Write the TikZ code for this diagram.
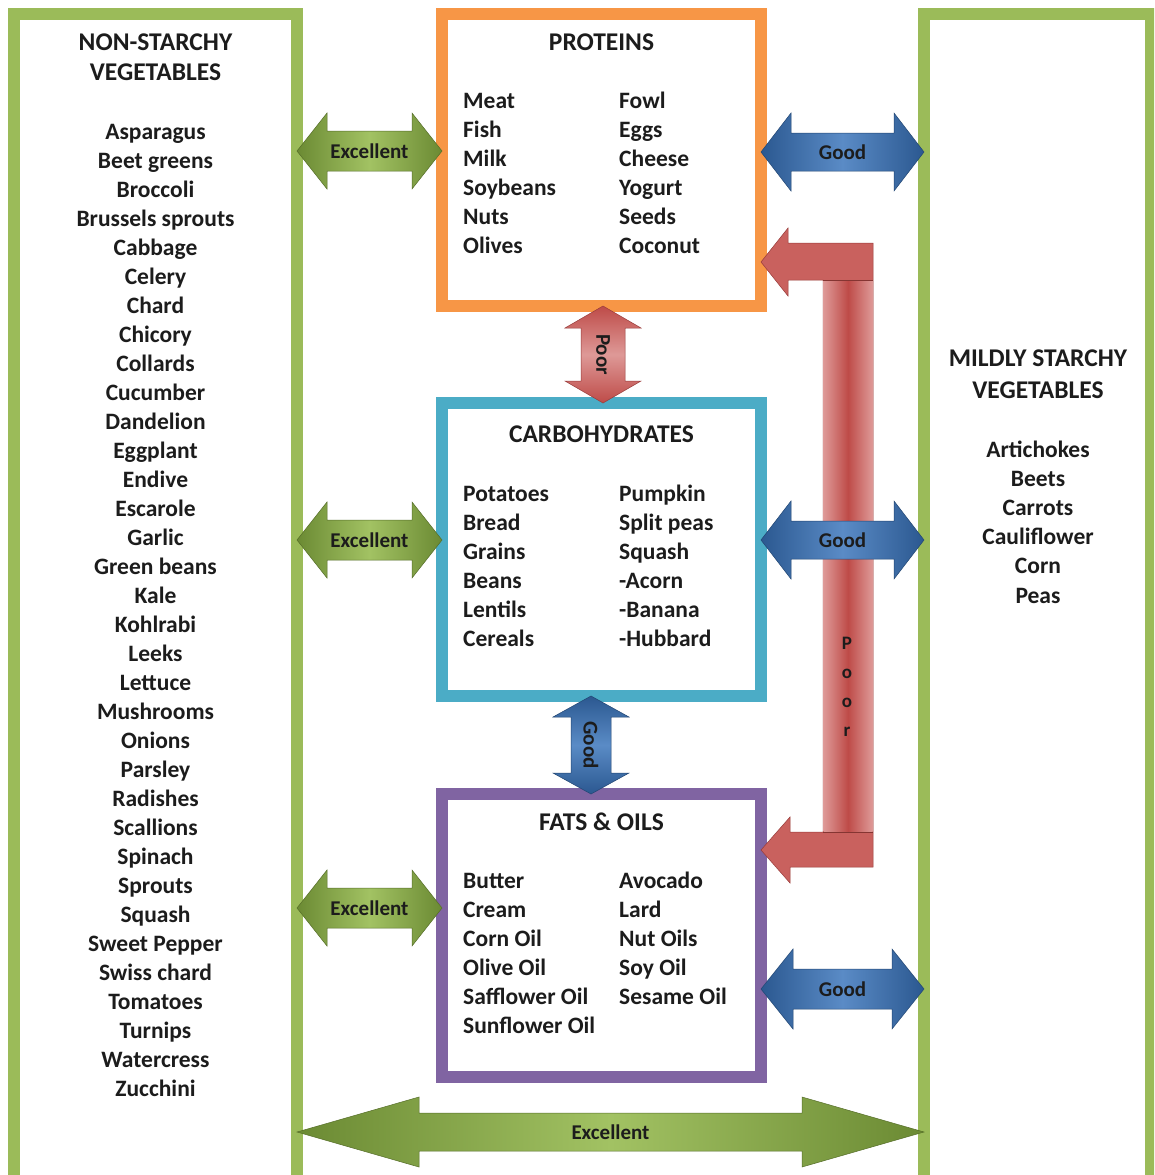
\documentclass[tikz,border=0pt]{standalone}
\usepackage{fontspec}
\setmainfont{Carlito}
\usetikzlibrary{calc}
\definecolor{gbox}{HTML}{9BBB59}
\definecolor{obox}{HTML}{F79646}
\definecolor{bbox}{HTML}{4BACC6}
\definecolor{pbox}{HTML}{8064A2}
\definecolor{gdark}{HTML}{6B8A33}
\definecolor{glight}{HTML}{A2C263}
\definecolor{bdark}{HTML}{2B5890}
\definecolor{blight}{HTML}{5A8BC6}
\definecolor{rdark}{HTML}{BE4B48}
\definecolor{rmid}{HTML}{C9615E}
\definecolor{rlight}{HTML}{DE9997}
\definecolor{txt}{HTML}{1C1C1C}
\tikzset{
  box/.style={draw, line width=12pt, rectangle, inner sep=0pt, outer sep=0pt},
  item/.style={font=\fontsize{23.5}{28}\selectfont\bfseries, text=txt, inner sep=0pt},
  head/.style={font=\fontsize{25.5}{30}\selectfont\bfseries, text=txt, inner sep=0pt, anchor=base},
  lbl/.style={font=\fontsize{21}{25}\selectfont\bfseries, text=txt, inner sep=0pt},
  garrow/.style={left color=gdark, right color=gdark, middle color=glight, draw=gdark!80!black, line width=0.5pt},
  barrow/.style={left color=bdark, right color=bdark, middle color=blight, draw=bdark!80!black, line width=0.5pt},
  vrarrow/.style={top color=rdark, bottom color=rdark, middle color=rlight, draw=rdark!80!black, line width=0.5pt},
  vbarrow/.style={top color=bdark, bottom color=bdark, middle color=blight, draw=bdark!80!black, line width=0.5pt},
}
% horizontal double block arrow: from, to, y (down), head length, head half, shaft half, style, label, name
\newcommand\harr[9]{%
  \path[#7] let \p1=(#1), \p2=(#2) in
    (\x1,-#3pt) -- (\x1+#4pt,-#3pt+#5pt) -- (\x1+#4pt,-#3pt+#6pt) -- (\x2-#4pt,-#3pt+#6pt)
    -- (\x2-#4pt,-#3pt+#5pt) -- (\x2,-#3pt) -- (\x2-#4pt,-#3pt-#5pt) -- (\x2-#4pt,-#3pt-#6pt)
    -- (\x1+#4pt,-#3pt-#6pt) -- (\x1+#4pt,-#3pt-#5pt) -- cycle;
  \path let \p1=(#1), \p2=(#2) in node[lbl] (#9) at ({(\x1+\x2)/2},-#3pt) {#8};
}
% vertical double block arrow: top node, bottom node, x, head length, head half, shaft half, style, label, name
\newcommand\varr[9]{%
  \path[#7] let \p1=(#1), \p2=(#2) in
    (#3pt,\y1) -- (#3pt+#5pt,\y1-#4pt) -- (#3pt+#6pt,\y1-#4pt) -- (#3pt+#6pt,\y2+#4pt)
    -- (#3pt+#5pt,\y2+#4pt) -- (#3pt,\y2) -- (#3pt-#5pt,\y2+#4pt) -- (#3pt-#6pt,\y2+#4pt)
    -- (#3pt-#6pt,\y1-#4pt) -- (#3pt-#5pt,\y1-#4pt) -- cycle;
  \path let \p1=(#1), \p2=(#2) in node[lbl, rotate=-90] (#9) at (#3pt,{(\y1+\y2)/2}) {#8};
}
\begin{document}
\begin{tikzpicture}[x=1pt,y=1pt]
\useasboundingbox (0,0) rectangle (1154,-1175);
\clip (0,0) rectangle (1154,-1175);
\fill[white] (0,0) rectangle (1154,-1175);

% boxes
\node[box, draw=gbox, minimum width=283pt, minimum height=1176pt] (nsv) at (155.5,-602) {};
\node[box, draw=gbox, minimum width=227pt, minimum height=1176pt] (msv) at (1037.5,-602) {};
\node[box, draw=obox, minimum width=319pt, minimum height=292pt] (prot) at (601.5,-160) {};
\node[box, draw=bbox, minimum width=319pt, minimum height=293pt] (carb) at (601.5,-549.5) {};
\node[box, draw=pbox, minimum width=319pt, minimum height=283pt] (fats) at (601.5,-935.5) {};

% headings
\node[head] (nsvh1) at (155.5,-50) {NON-STARCHY};
\node[head] (nsvh2) at (155.5,-80) {VEGETABLES};
\node[head] (msvh1) at (1038,-366) {MILDLY STARCHY};
\node[head] (msvh2) at (1038,-398) {VEGETABLES};
\node[head] (proth) at (601.5,-50) {PROTEINS};
\node[head] (carbh) at (601.5,-442) {CARBOHYDRATES};
\node[head] (fatsh) at (601.5,-830) {FATS \& OILS};

% left list
\foreach \t [count=\i] in {Asparagus,Beet greens,Broccoli,Brussels sprouts,Cabbage,Celery,Chard,Chicory,Collards,Cucumber,Dandelion,Eggplant,Endive,Escarole,Garlic,Green beans,Kale,Kohlrabi,Leeks,Lettuce,Mushrooms,Onions,Parsley,Radishes,Scallions,Spinach,Sprouts,Squash,Sweet Pepper,Swiss chard,Tomatoes,Turnips,Watercress,Zucchini}
  \node[item, anchor=base] (ns\i) at (155.5,{-139-29*(\i-1)}) {\t};
% right list
\foreach \t [count=\i] in {Artichokes,Beets,Carrots,Cauliflower,Corn,Peas}
  \node[item, anchor=base] (ms\i) at (1038,{-457-29.2*(\i-1)}) {\t};
% proteins
\foreach \t [count=\i] in {Meat,Fish,Milk,Soybeans,Nuts,Olives}
  \node[item, anchor=base west] (pa\i) at (463,{-108-29*(\i-1)}) {\t};
\foreach \t [count=\i] in {Fowl,Eggs,Cheese,Yogurt,Seeds,Coconut}
  \node[item, anchor=base west] (pb\i) at (619,{-108-29*(\i-1)}) {\t};
% carbohydrates
\foreach \t [count=\i] in {Potatoes,Bread,Grains,Beans,Lentils,Cereals}
  \node[item, anchor=base west] (ca\i) at (463,{-501-29*(\i-1)}) {\t};
\foreach \t [count=\i] in {Pumpkin,Split peas,Squash,-Acorn,-Banana,-Hubbard}
  \node[item, anchor=base west] (cb\i) at (619,{-501-29*(\i-1)}) {\t};
% fats
\foreach \t [count=\i] in {Butter,Cream,Corn Oil,Olive Oil,Safflower Oil,Sunflower Oil}
  \node[item, anchor=base west] (fa\i) at (463,{-888-29*(\i-1)}) {\t};
\foreach \t [count=\i] in {Avocado,Lard,Nut Oils,Soy Oil,Sesame Oil}
  \node[item, anchor=base west] (fb\i) at (619,{-888-29*(\i-1)}) {\t};

% red Poor bracket from fats to proteins
\path[fill=rmid, draw=rdark!80!black, line width=0.5pt] let \p1=(prot.east), \p2=(fats.east) in
  (\x1,-262pt) -- (788pt,-228pt) -- (788pt,-243pt) -- (873pt,-243pt) -- (873pt,-867pt)
  -- (790pt,-867pt) -- (790pt,-883pt) -- (\x2,-850pt) -- (790pt,-817pt) -- (790pt,-832pt)
  -- (823pt,-832pt) -- (823pt,-280pt) -- (788pt,-280pt) -- (788pt,-296pt) -- cycle;
\shade[left color=rlight, right color=rlight, middle color=rdark] (823.5,-280.5) rectangle (872.5,-831.5);
\draw[rdark!70!black, line width=1pt] (823,-280) -- (873,-280) (823,-832) -- (873,-832);
\node[lbl, align=center, font=\fontsize{19}{29}\selectfont\bfseries] (poorbar) at (847,-687) {P\\o\\o\\r};

% green Excellent arrows
\harr{nsv.east}{prot.west}{151}{30}{38}{20}{garrow}{Excellent}{ex1}
\harr{nsv.east}{carb.west}{540}{30}{38}{20}{garrow}{Excellent}{ex2}
\harr{nsv.east}{fats.west}{908}{30}{38}{20}{garrow}{Excellent}{ex3}
\harr{nsv.east}{msv.west}{1132}{122}{35}{19}{garrow}{Excellent}{ex4}

% blue Good arrows
\harr{prot.east}{msv.west}{152}{30}{39}{19}{barrow}{Good}{gd1}
\harr{carb.east}{msv.west}{540}{30}{39}{19}{barrow}{Good}{gd2}
\harr{fats.east}{msv.west}{989}{32}{40}{20}{barrow}{Good}{gd3}

% vertical arrows
\varr{prot.south}{carb.north}{603}{22}{38}{22}{vrarrow}{Poor}{pr1}
\varr{carb.south}{fats.north}{591}{21}{38}{20}{vbarrow}{Good}{gd4}
\end{tikzpicture}
\end{document}
